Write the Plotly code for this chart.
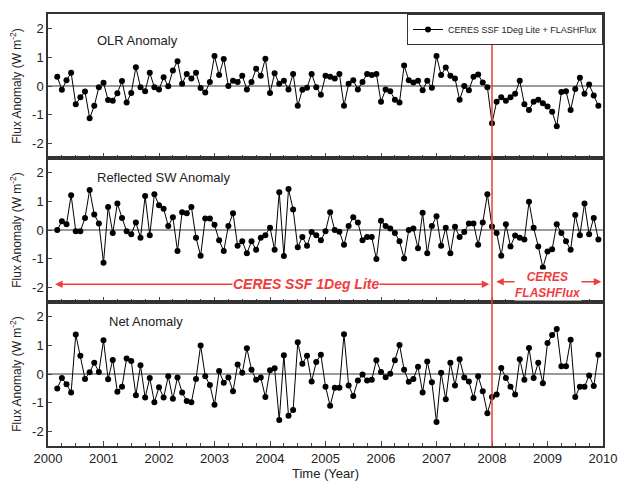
import plotly.graph_objects as go
from plotly.subplots import make_subplots

# monthly time axis, Mar 2000 .. Dec 2009 (decimal years)
time = [2000 + m // 12 + (m % 12) / 12 for m in range(2, 120)]

olr = [0.32, -0.13, 0.2, 0.46, -0.63, -0.39, -0.19, -1.12, -0.69, -0.04,
       0.11, -0.49, -0.51, -0.25, 0.17, -0.57, -0.24, 0.65, -0.04, -0.18,
       0.46, -0.04, -0.12, 0.3, -0.01, 0.54, 0.86, 0.08, 0.42, 0.26,
       0.46, -0.07, -0.23, 0.14, 1.04, 0.38, 0.94, 0.0,
       0.18, 0.14, 0.36, -0.12, 0.14, 0.6, 0.36, 0.95, -0.24, 0.44,
       0.08, 0.18, -0.12, 0.42, -0.69, -0.13, -0.06, 0.42, -0.04, -0.3,
       0.36, 0.32, 0.26, 0.42, -0.69, 0.08, 0.2, -0.12, 0.14, 0.42,
       0.38, 0.42, -0.55, -0.12, -0.18, -0.48, -0.57, 0.71, 0.2,
       0.12, 0.18, -0.15, 0.18, -0.06, 1.04, 0.38, 0.64, 0.36, 0.26,
       -0.48, 0.0, -0.15, 0.32, 0.4, 0.12, -0.04, -1.29, -0.55, -0.39,
       -0.51, -0.39, -0.27, 0.18, -0.63, -0.83, -0.55, -0.48, -0.6, -0.71,
       -0.89, -1.4, -0.21, -0.18, -0.83, -0.1, 0.29, -0.27, 0.05, -0.33, -0.69]

sw = [0.0, 0.3, 0.2, 1.21, -0.04, -0.04, 0.42, 1.39, 0.54, 0.23,
      -1.14, 0.8, -0.1, 0.92, 0.42, -0.04, -0.15, 0.26, -0.27, 1.18,
      -0.18, 1.24, 0.86, 0.74, 0.14, 0.44, -0.73, 0.62, 0.58, 0.8,
      -0.27, -0.89, 0.4, 0.4, 0.18, -0.36, -0.73, 0.14,
      0.58, -0.55, -0.39, -0.81, -0.39, -0.69, -0.27, -0.18, 0.08, -0.69,
      1.31, -0.9, 1.42, 0.71, -0.6, -0.24, -0.55, -0.07, -0.18, -0.36,
      -0.04, 0.62, 0.0, -0.06, -0.51, 0.14, 0.44, 0.26, -0.36, -0.24,
      -0.24, -1.01, 0.32, 0.14, 0.05, -0.1, -0.39, -0.99, 0.0,
      0.05, -0.63, 0.6, -0.81, 0.14, 0.48, -0.55, 0.08, -0.81, 0.11,
      -0.24, -0.07, 0.23, 0.23, -0.51, 0.26, 1.24, 0.12, -0.1, -0.89,
      0.2, -0.57, -0.19, -0.27, -0.33, 0.98, 0.08, -0.57, -1.3, -0.75,
      -0.67, 0.2, -0.1, -0.39, -0.69, 0.52, -0.18, 0.92, -0.15, 0.42, -0.33]

net = [-0.5, -0.14, -0.36, -0.64, 1.37, 0.63, -0.17, 0.06, 0.39, 0.07,
       1.17, -0.18, 0.49, -0.62, -0.44, 0.54, 0.45, -0.74, 0.3, -0.82,
       -0.14, -0.98, -0.46, -0.82, -0.08, -0.86, -0.12, -0.64, -0.94, -0.98,
       -0.17, 0.99, -0.08, -0.38, -1.07, 0.1, -0.3, -0.12,
       -0.6, 0.33, 0.04, 0.89, 0.15, -0.2, -0.12, -0.8, 0.13, 0.2,
       -1.6, 0.65, -1.45, -1.25, 1.1, 0.36, 0.63, -0.26, 0.42, 0.67,
       -0.44, -1.1, -0.48, -0.48, 1.38, -0.4, -0.76, -0.23, -0.02, -0.23,
       -0.2, 0.48, 0.07, -0.11, 0.01, 0.48, 1.01, 0.15, -0.27,
       -0.17, 0.25, -0.64, 0.43, -0.29, -1.67, 0.04, -0.88, 0.39, -0.4,
       0.51, -0.12, -0.26, -0.83, -0.08, -0.6, -1.36, -0.8, -0.71, 0.21,
       -0.14, -0.44, -0.71, 0.51, -0.2, 0.9, -0.14, 0.39, -0.32, 1.08,
       1.35, 1.56, 0.27, 0.27, 1.19, -0.8, -0.44, -0.44, -0.05, -0.42, 0.67]

panels = [("OLR Anomaly", olr), ("Reflected SW Anomaly", sw), ("Net Anomaly", net)]
year_ticks = list(range(2000, 2011))
y_ticks = [-2, -1, 0, 1, 2]
y_text = ["-2", "-1", "0", "1", "2"]
switch_year = 2008
red = "#f03c3c"
font = "Liberation Sans, Arial, sans-serif"

fig = make_subplots(rows=3, cols=1, shared_xaxes=True, vertical_spacing=0)

for i, (name, vals) in enumerate(panels, start=1):
    fig.add_trace(go.Scatter(
        x=time, y=vals, mode="lines+markers",
        name="CERES SSF 1Deg Lite + FLASHFlux",
        showlegend=(i == 1),
        line=dict(color="black", width=1),
        marker=dict(color="black", size=6, symbol="circle"),
    ), row=i, col=1)
    fig.update_yaxes(
        range=[-2.5, 2.5], tickvals=y_ticks, ticktext=y_text,
        ticks="inside", ticklen=4, showgrid=False, automargin=False,
        zeroline=True, zerolinecolor="#9a9a9a", zerolinewidth=2,
        showline=True, mirror=True, linecolor="#333", linewidth=1.5,
        title=dict(text="Flux Anomaly (W m<sup>-2</sup>)",
                   font=dict(size=12), standoff=8),
        row=i, col=1)
    fig.update_xaxes(
        range=[2000, 2010], tickvals=year_ticks, ticks="inside", ticklen=5,
        minor=dict(dtick=0.25, ticks="inside", ticklen=3, tick0=2000),
        showgrid=False, zeroline=False, automargin=False,
        showline=True, mirror=True, linecolor="#333", linewidth=1.5,
        row=i, col=1)

fig.update_xaxes(title=dict(text="Time (Year)", font=dict(size=13), standoff=2),
                 row=3, col=1)

# panel labels
label_pos = [(0.085, 1.57, "y"), (0.085, 1.81, "y2"), (0.106, 1.84, "y3")]
for (name, _), (xp, yv, yr) in zip(panels, label_pos):
    fig.add_annotation(x=xp, y=yv, xref="paper", yref=yr, text=name,
                       showarrow=False, xanchor="left",
                       font=dict(size=13, color="#222"))

# instrument switch
fig.add_shape(type="line", x0=switch_year, x1=switch_year, y0=0, y1=1,
              xref="x", yref="paper", line=dict(color=red, width=1.5))

# period arrows
fig.add_annotation(x=2007.95, y=-1.88, ax=2000.1, ay=-1.88, xref="x2", yref="y2",
                   axref="x2", ayref="y2", text="", showarrow=True,
                   arrowside="end+start", arrowhead=2, arrowsize=1,
                   arrowwidth=1.5, arrowcolor=red)
fig.add_annotation(x=2004.65, y=-1.88, xref="x2", yref="y2",
                   text="<b><i>CERES SSF 1Deg Lite</i></b>", showarrow=False,
                   bgcolor="white", borderpad=0, font=dict(size=14, color=red))
fig.add_annotation(x=2009.97, y=-1.8, ax=2008.05, ay=-1.8, xref="x2", yref="y2",
                   axref="x2", ayref="y2", text="", showarrow=True,
                   arrowside="end+start", arrowhead=2, arrowsize=1,
                   arrowwidth=1.5, arrowcolor=red)
fig.add_annotation(x=2009.0, y=-1.92, xref="x2", yref="y2",
                   text="<b><i>CERES<br>FLASHFlux</i></b>", showarrow=False,
                   bgcolor="white", borderpad=0,
                   font=dict(size=12, color=red))

fig.update_layout(
    width=620, height=488,
    margin=dict(l=48, r=17, t=14, b=42),
    paper_bgcolor="white", plot_bgcolor="white",
    font=dict(family=font, size=13, color="#222"),
    legend=dict(x=1, y=1, xanchor="right", yanchor="top",
                bordercolor="#333", borderwidth=1, bgcolor="white",
                font=dict(size=9), itemwidth=30,
                tracegroupgap=0),
)

fig.write_html("out.html", config={"displayModeBar": False},
               post_script="document.body.style.margin='0';"
                           "document.body.style.overflow='hidden';")
